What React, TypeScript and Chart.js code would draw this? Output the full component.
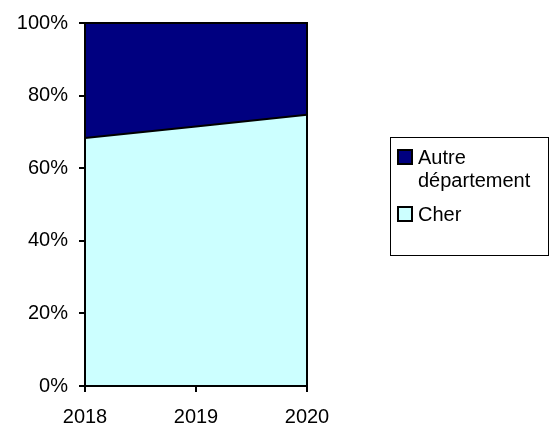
import React, { useEffect, useRef } from "react";
import { Chart, registerables } from "chart.js";

Chart.register(...registerables);

const years = ["2018", "2019", "2020"];
const cherShare = [68.3, 71.5, 74.7];
const autreShare = [31.7, 28.5, 25.3];
const yTicks = [0, 20, 40, 60, 80, 100];
const legendItems = [
  { lines: ["Autre", "département"], color: "#000080" },
  { lines: ["Cher"], color: "#CCFFFF" },
];

const FONT = "Liberation Sans, Arial, sans-serif";

const frameAndLegend = {
  id: "frameAndLegend",
  afterDatasetsDraw(chart: any) {
    const { ctx, chartArea } = chart;
    ctx.save();
    ctx.strokeStyle = "#000";
    ctx.lineWidth = 2;
    ctx.strokeRect(
      chartArea.left,
      chartArea.top,
      chartArea.right - chartArea.left,
      chartArea.bottom - chartArea.top
    );
    ctx.restore();
  },
  afterDraw(chart: any) {
    const { ctx } = chart;
    ctx.save();
    ctx.strokeStyle = "#000";
    ctx.lineWidth = 1;
    ctx.strokeRect(390.5, 137.5, 158, 118);
    ctx.font = `20px ${FONT}`;
    ctx.textBaseline = "alphabetic";
    ctx.textAlign = "left";
    const baselines = [[164, 187], [221]];
    legendItems.forEach((item, i) => {
      const b = baselines[i];
      const sy = b[0] - 14;
      ctx.fillStyle = item.color;
      ctx.fillRect(398, sy, 14, 14);
      ctx.strokeStyle = "#000";
      ctx.lineWidth = 2;
      ctx.strokeRect(398, sy, 14, 14);
      ctx.fillStyle = "#000";
      item.lines.forEach((ln, j) => ctx.fillText(ln, 418, b[j]));
    });
    ctx.restore();
  },
};

export default function App() {
  const ref = useRef<HTMLCanvasElement | null>(null);
  useEffect(() => {
    if (!ref.current) return;
    const chart = new Chart(ref.current, {
      type: "line",
      data: {
        labels: years,
        datasets: [
          {
            label: "Cher",
            data: cherShare,
            backgroundColor: "#CCFFFF",
            borderColor: "#000",
            borderWidth: 2,
            fill: "origin",
            pointRadius: 0,
            tension: 0,
          },
          {
            label: "Autre département",
            data: autreShare,
            backgroundColor: "#000080",
            borderColor: "#000080",
            borderWidth: 0,
            fill: "-1",
            pointRadius: 0,
            tension: 0,
          },
        ],
      },
      options: {
        responsive: false,
        animation: false,
        devicePixelRatio: 1,
        layout: { padding: { top: 20, right: 244, left: 0, bottom: 0 } },
        plugins: {
          legend: { display: false },
          tooltip: { enabled: false },
        },
        scales: {
          x: {
            offset: false,
            afterFit: (s: any) => {
              s.height = 41;
            },
            grid: {
              drawOnChartArea: false,
              drawTicks: true,
              tickLength: 6,
              color: "#000",
              lineWidth: 2,
            },
            border: { display: true, color: "#000", width: 2 },
            ticks: {
              color: "#000",
              font: { family: FONT, size: 20 },
              padding: 13,
              maxRotation: 0,
            },
          },
          y: {
            stacked: true,
            min: 0,
            max: 100,
            afterFit: (s: any) => {
              s.width = 85;
            },
            afterBuildTicks: (s: any) => {
              s.ticks = yTicks.map((v) => ({ value: v }));
            },
            grid: {
              drawOnChartArea: false,
              drawTicks: true,
              tickLength: 6,
              color: "#000",
              lineWidth: 2,
            },
            border: { display: true, color: "#000", width: 2 },
            ticks: {
              color: "#000",
              font: { family: FONT, size: 20 },
              padding: 11,
              callback: (v: any) => `${v}%`,
            },
          },
        },
      },
      plugins: [frameAndLegend],
    });
    return () => chart.destroy();
  }, []);
  return (
    <div style={{ position: "absolute", left: 0, top: 0, width: 551, height: 427, background: "#fff" }}>
      <canvas ref={ref} width={551} height={427} style={{ display: "block" }} />
    </div>
  );
}
